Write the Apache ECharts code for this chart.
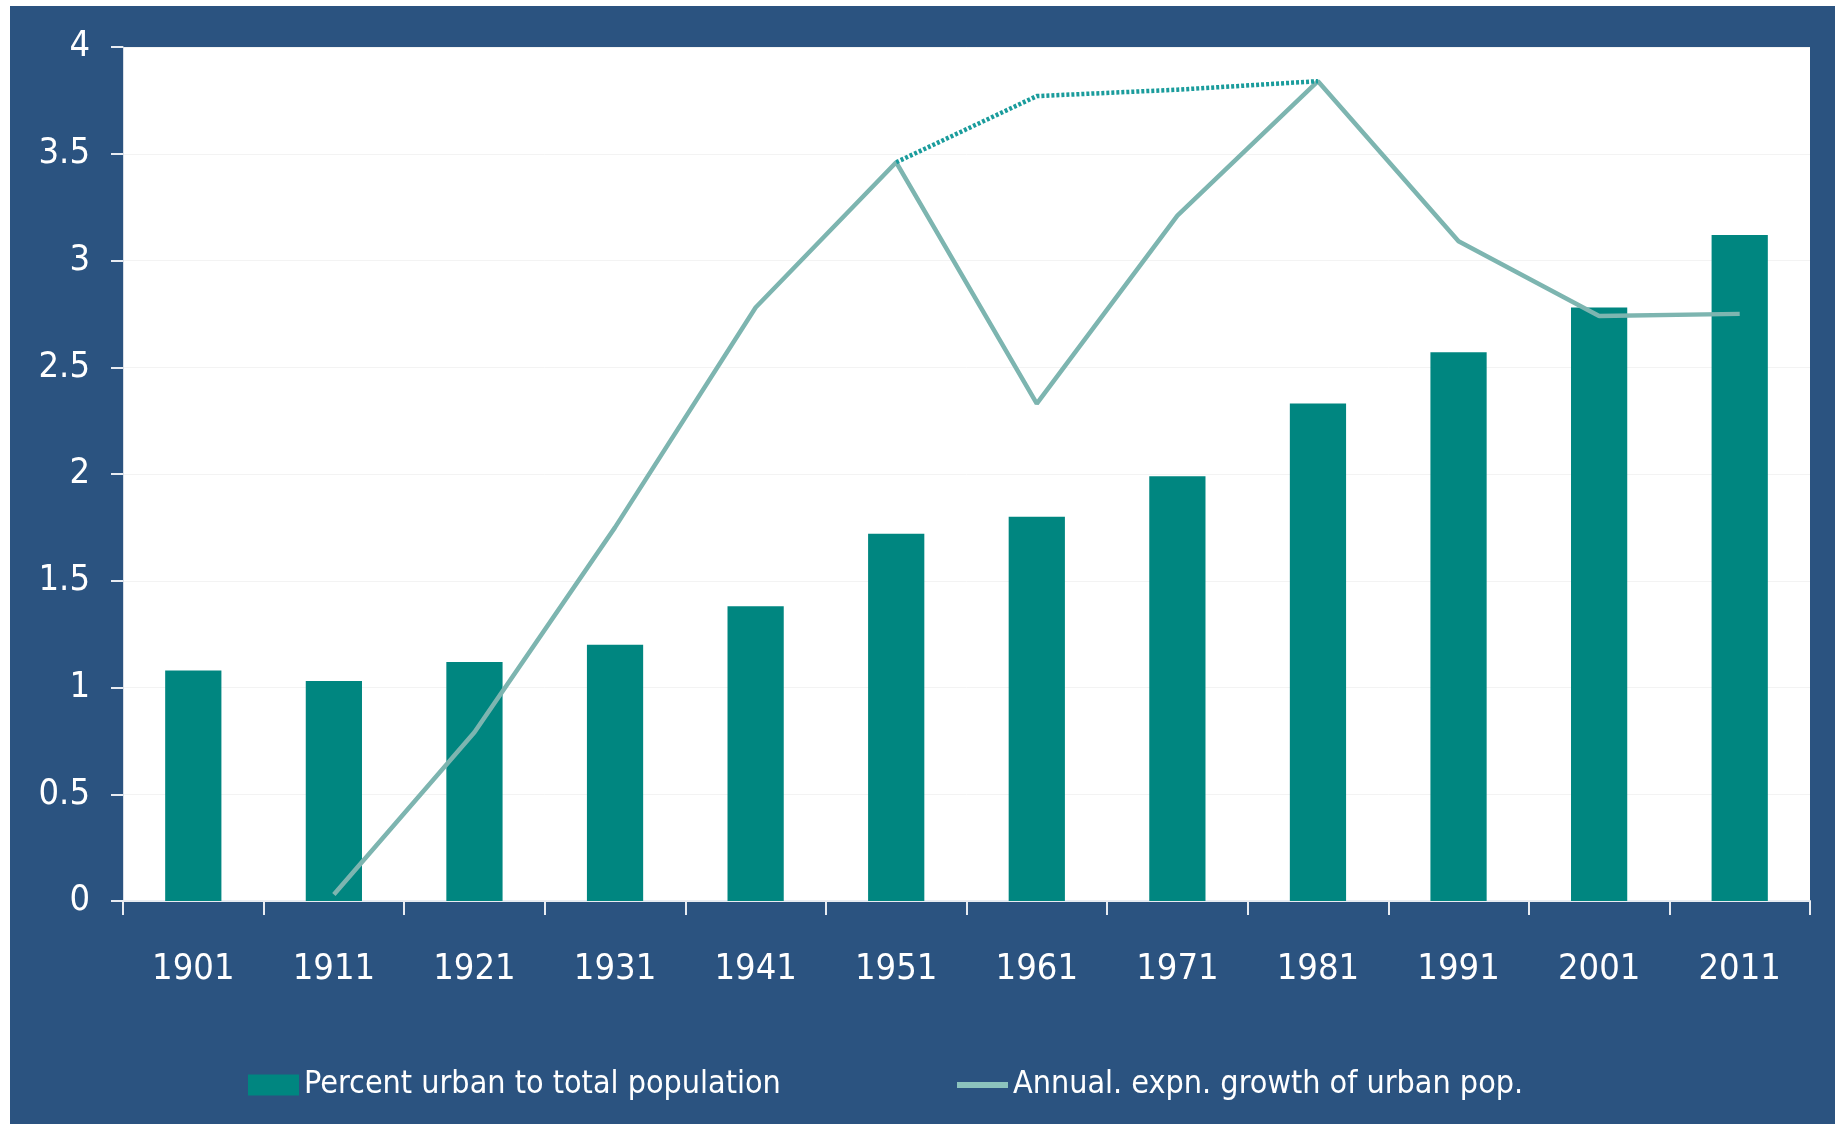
<!DOCTYPE html>
<html>
<head>
<meta charset="utf-8">
<script src="https://cdn.jsdelivr.net/npm/echarts@6/dist/echarts.min.js"></script>
<style>
html,body{margin:0;padding:0;background:#ffffff;width:1835px;height:1124px;overflow:hidden;}
#c{position:absolute;left:10px;top:6px;width:1825px;height:1118px;}
</style>
</head>
<body>
<div id="c"></div>
<script>
const years = ['1901','1911','1921','1931','1941','1951','1961','1971','1981','1991','2001','2011'];
const percentUrban = [1.08, 1.03, 1.12, 1.20, 1.38, 1.72, 1.80, 1.99, 2.33, 2.57, 2.78, 3.12];
const urbanGrowth = [null, 0.03, 0.79, 1.75, 2.78, 3.46, 2.33, 3.21, 3.84, 3.09, 2.74, 2.75];
const dottedPath = [null, null, null, null, null, 3.46, 3.77, 3.80, 3.84, null, null, null];
const yTicks = ['0','0.5','1','1.5','2','2.5','3','3.5','4'];
const barName = 'Percent urban to total population';
const lineName = 'Annual. expn. growth of urban pop.';

const font = "'Liberation Sans Narrow','DejaVu Sans Condensed',sans-serif";
const chart = echarts.init(document.getElementById('c'));
chart.setOption({
  backgroundColor: '#2B5380',
  animation: false,
  grid: {left: 113, top: 41, right: 25, bottom: 223, show: true, backgroundColor: '#ffffff', borderWidth: 0},
  legend: [
    {
      left: 238, top: 1063, padding: 0,
      itemWidth: 51, itemHeight: 21,
      textStyle: {color: '#ffffff', fontFamily: font, fontSize: 32},
      data: [{name: barName, icon: 'rect'}]
    },
    {
      left: 947, top: 1063, padding: 0,
      itemWidth: 51, itemHeight: 6,
      textStyle: {color: '#ffffff', fontFamily: font, fontSize: 32},
      data: [{name: lineName, icon: 'rect', itemStyle: {color: '#8CC3BD'}}]
    }
  ],
  xAxis: {
    type: 'category', data: years, boundaryGap: true,
    axisLine: {show: true, lineStyle: {color: '#E8ECF2', width: 2}},
    axisTick: {show: true, length: 14, lineStyle: {color: '#E8ECF2', width: 2}},
    axisLabel: {color: '#ffffff', fontFamily: font, fontSize: 36, margin: 51}
  },
  yAxis: {
    type: 'value', min: 0, max: 4, interval: 0.5,
    axisLine: {show: true, lineStyle: {color: '#D8DEE6', width: 1}},
    axisTick: {show: true, length: 12, lineStyle: {color: '#E8ECF2', width: 2}},
    axisLabel: {color: '#ffffff', fontFamily: font, fontSize: 36, margin: 33,
      formatter: function(v){ return yTicks[Math.round(v*2)]; }},
    splitLine: {show: true, lineStyle: {color: '#F3F3F3', width: 1}}
  },
  series: [
    {name: barName, type: 'bar', data: percentUrban,
     barWidth: '40%', itemStyle: {color: '#008680'}},
    {name: lineName, type: 'line', data: urbanGrowth,
     symbol: 'none', lineStyle: {color: '#7DB5B0', width: 4.5}, itemStyle: {color: '#7DB5B0'}, z: 3},
    {name: 'dotted', type: 'line', data: dottedPath, symbol: 'none',
     lineStyle: {color: '#1A9C9C', width: 4.5, type: [3, 2]}, z: 4}
  ]
});
</script>
</body>
</html>
